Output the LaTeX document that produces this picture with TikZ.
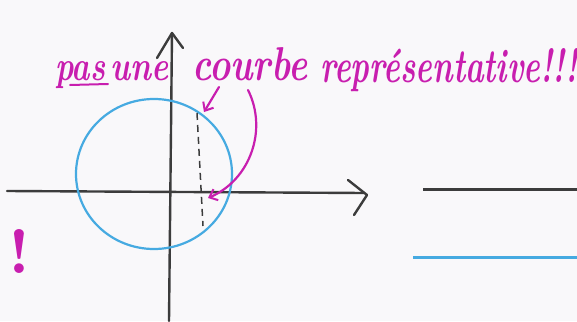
\documentclass[tikz,border=0pt]{standalone}
\usepackage{graphicx}
\usetikzlibrary{arrows.meta}
\definecolor{pen}{RGB}{200,30,175}
\definecolor{sky}{RGB}{70,170,225}
\definecolor{ink}{RGB}{60,60,60}
\definecolor{paper}{RGB}{249,248,250}
\begin{document}
\begin{tikzpicture}[x=1pt,y=-1pt,
  axis/.style={ink, line width=2.4pt, line cap=round, line join=round},
  note/.style={text=pen, anchor=base west, inner sep=0pt, font=\bfseries\itshape},
  penline/.style={pen, line width=2.2pt, line cap=round, -{Straight Barb[length=7pt,width=12pt,line width=2pt]}}]
\fill[paper] (0,0) rectangle (577,321);
\useasboundingbox (0,0) rectangle (577,321);
% axes
\coordinate (ybot) at (169,321);
\coordinate (ytip) at (172,33);
\coordinate (xleft) at (7,191);
\coordinate (xtip) at (367,195);
\draw[axis] (ybot) -- (ytip);
\draw[axis] (157,58) -- (ytip) -- (183,48);
\draw[axis] (xleft) -- (364,193);
\draw[axis] (348,180) -- (xtip) -- (354,215);
% circle
\draw[sky, line width=2.2pt] (154,174) ellipse [x radius=78, y radius=75];
% dashed chord
\coordinate (dtop) at (197,113);
\coordinate (dbot) at (203,226);
\draw[ink, line width=1.5pt, dash pattern=on 7pt off 5pt] (dtop) -- (dbot);
% right lines
\coordinate (ra) at (423,189.5);
\coordinate (rb) at (577,189.5);
\coordinate (rc) at (413,257);
\coordinate (rd) at (577,257);
\draw[ink, line width=2.4pt] (ra) -- (rb);
\draw[sky, line width=3pt] (rc) -- (rd);
% text
\node[note] (pas) at (55,80) {\resizebox{50pt}{19pt}{pas}};
\node[note] (une) at (110,80) {\resizebox{58pt}{19pt}{une}};
\node[note] (courbe) at (192,80) {\resizebox{115pt}{33pt}{courbe}};
\node[note] (repr) at (320,82) {\resizebox{257pt}{34pt}{représentative!!!}};
\coordinate (ula) at (70,85);
\coordinate (ulb) at (108,84);
\draw[pen, line width=2pt, line cap=round] (ula) -- (ulb);
\node[note, font=\bfseries\upshape] (bang) at (8,273) {\resizebox{!}{44pt}{!}};
% magenta arrows
\coordinate (a1s) at (219,87);
\coordinate (a1e) at (204,112);
\draw[penline] (a1s) -- (a1e);
\coordinate (a2s) at (248,90);
\coordinate (a2e) at (208,198);
\draw[penline] (a2s) .. controls (268,130) and (250,180) .. (a2e);
\end{tikzpicture}
\end{document}
